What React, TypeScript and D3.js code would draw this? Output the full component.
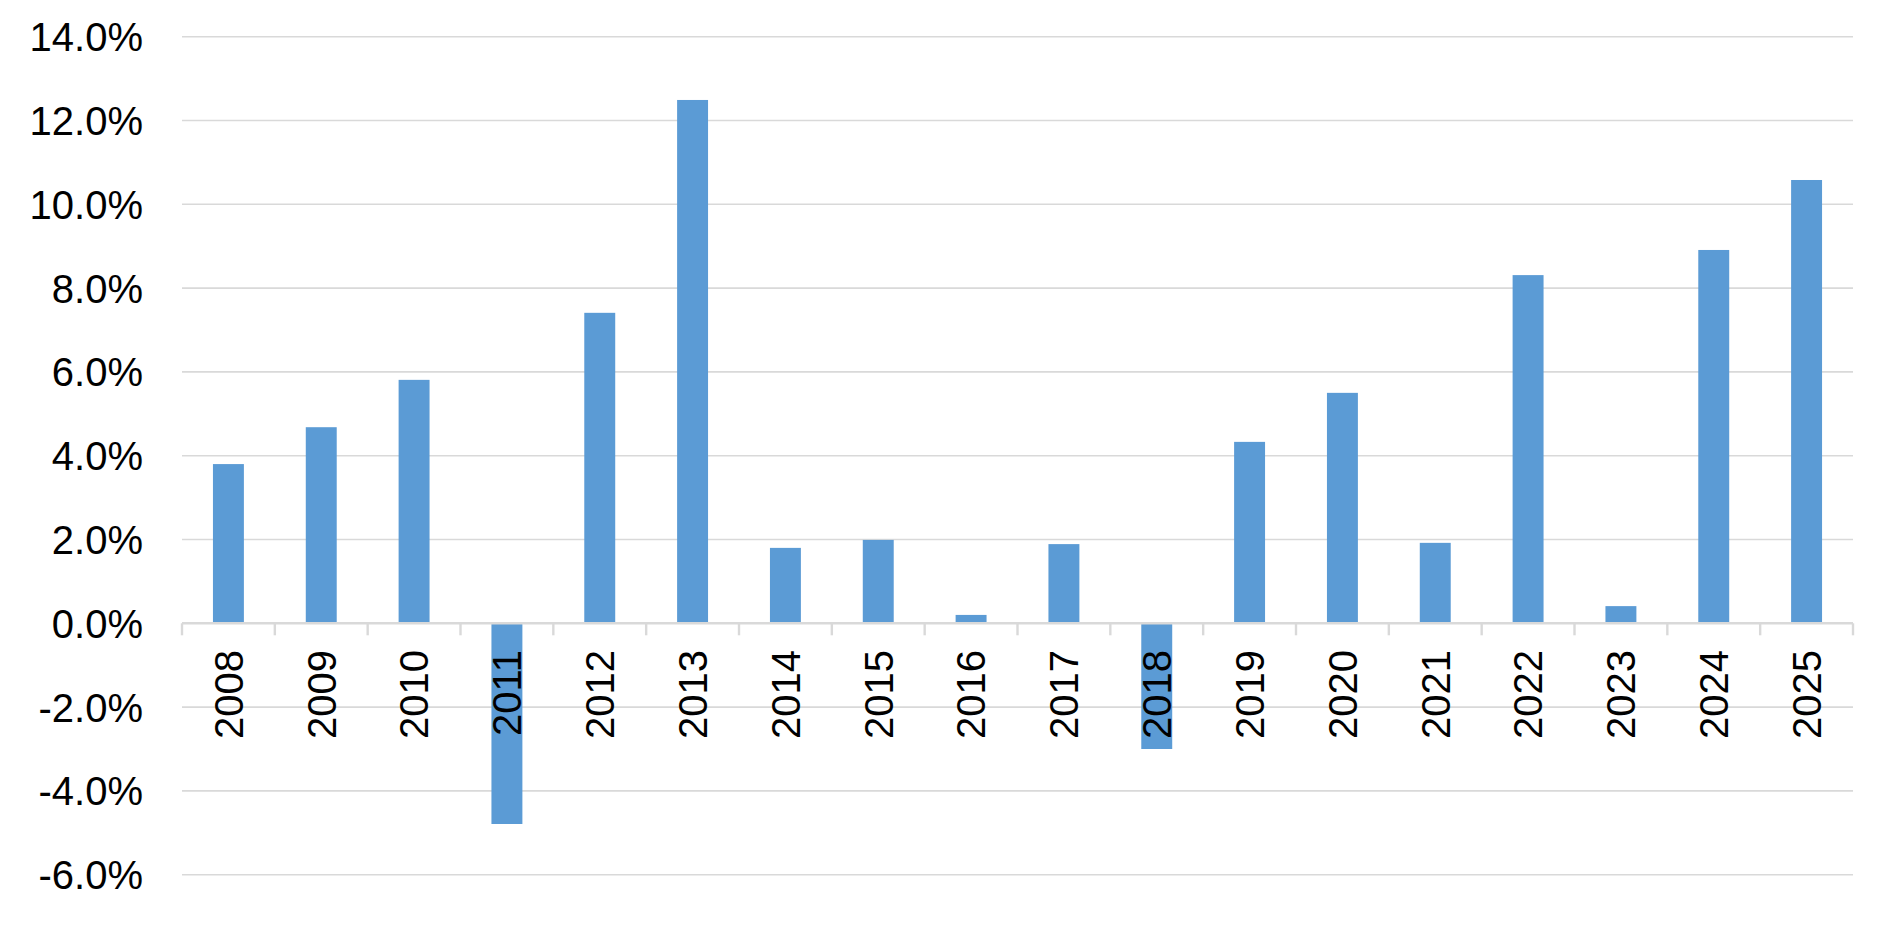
import React, { useEffect, useRef } from "react";
import * as d3 from "d3";

// Chart values
const years = [
  "2008", "2009", "2010", "2011", "2012", "2013", "2014", "2015", "2016",
  "2017", "2018", "2019", "2020", "2021", "2022", "2023", "2024", "2025",
];
const growth = [
  3.8, 4.68, 5.81, -4.79, 7.41, 12.49, 1.8, 1.99, 0.2,
  1.89, -3.0, 4.33, 5.5, 1.92, 8.31, 0.41, 8.91, 10.58,
];
const yTicks = [-6, -4, -2, 0, 2, 4, 6, 8, 10, 12, 14];

const WIDTH = 1903;
const HEIGHT = 925;

const App = () => {
  const ref = useRef<SVGSVGElement>(null);

  useEffect(() => {
    document.body.style.margin = "0";

    const svg = d3.select(ref.current);
    svg.selectAll("*").remove();

    const left = 182;
    const right = 1853;
    const font = "'Liberation Sans', Arial, sans-serif";

    // category slots (for tick marks) and bars (gap width 200%)
    const slot = d3.scaleBand<string>().domain(years).range([left, right]);
    const x = d3
      .scaleBand<string>()
      .domain(years)
      .range([left, right])
      .paddingInner(2 / 3)
      .paddingOuter(1 / 3);
    const y = d3.scaleLinear().domain([-6, 14]).range([874.7, 36.7]);

    // horizontal gridlines
    svg
      .append("g")
      .selectAll("line")
      .data(yTicks.filter((t) => t !== 0))
      .enter()
      .append("line")
      .attr("x1", left)
      .attr("x2", right)
      .attr("y1", (d) => y(d))
      .attr("y2", (d) => y(d))
      .attr("stroke", "#D9D9D9")
      .attr("stroke-width", 1.6);

    // y labels
    svg
      .append("g")
      .selectAll("text")
      .data(yTicks)
      .enter()
      .append("text")
      .attr("x", 143)
      .attr("y", (d) => y(d))
      .attr("dy", "0.36em")
      .attr("text-anchor", "end")
      .attr("font-family", font)
      .attr("font-size", 40)
      .attr("fill", "#000000")
      .text((d) => `${d.toFixed(1)}%`);

    // bars
    svg
      .append("g")
      .selectAll("rect")
      .data(growth)
      .enter()
      .append("rect")
      .attr("x", (_, i) => x(years[i]) as number)
      .attr("width", x.bandwidth())
      .attr("y", (d) => y(Math.max(0, d)))
      .attr("height", (d) => Math.abs(y(d) - y(0)))
      .attr("fill", "#5B9BD5");

    // category axis at zero with outside tick marks
    const zeroY = y(0);
    const axis = svg.append("g");
    axis
      .append("line")
      .attr("x1", left)
      .attr("x2", right)
      .attr("y1", zeroY)
      .attr("y2", zeroY)
      .attr("stroke", "#D9D9D9")
      .attr("stroke-width", 2.4);
    const bounds = years.map((yr) => slot(yr) as number).concat([right]);
    axis
      .selectAll("line.tick")
      .data(bounds)
      .enter()
      .append("line")
      .attr("class", "tick")
      .attr("x1", (d) => d)
      .attr("x2", (d) => d)
      .attr("y1", zeroY)
      .attr("y2", zeroY + 12)
      .attr("stroke", "#D9D9D9")
      .attr("stroke-width", 2.4);

    // rotated year labels
    svg
      .append("g")
      .selectAll("text")
      .data(years)
      .enter()
      .append("text")
      .attr(
        "transform",
        (d) =>
          `translate(${(slot(d) as number) + slot.bandwidth() / 2 + 14.3}, 650) rotate(-90)`
      )
      .attr("text-anchor", "end")
      .attr("font-family", font)
      .attr("font-size", 40)
      .attr("fill", "#000000")
      .text((d) => d);
  }, []);

  return (
    <svg
      ref={ref}
      width={WIDTH}
      height={HEIGHT}
      style={{ display: "block", background: "#ffffff" }}
    />
  );
};

export default App;
